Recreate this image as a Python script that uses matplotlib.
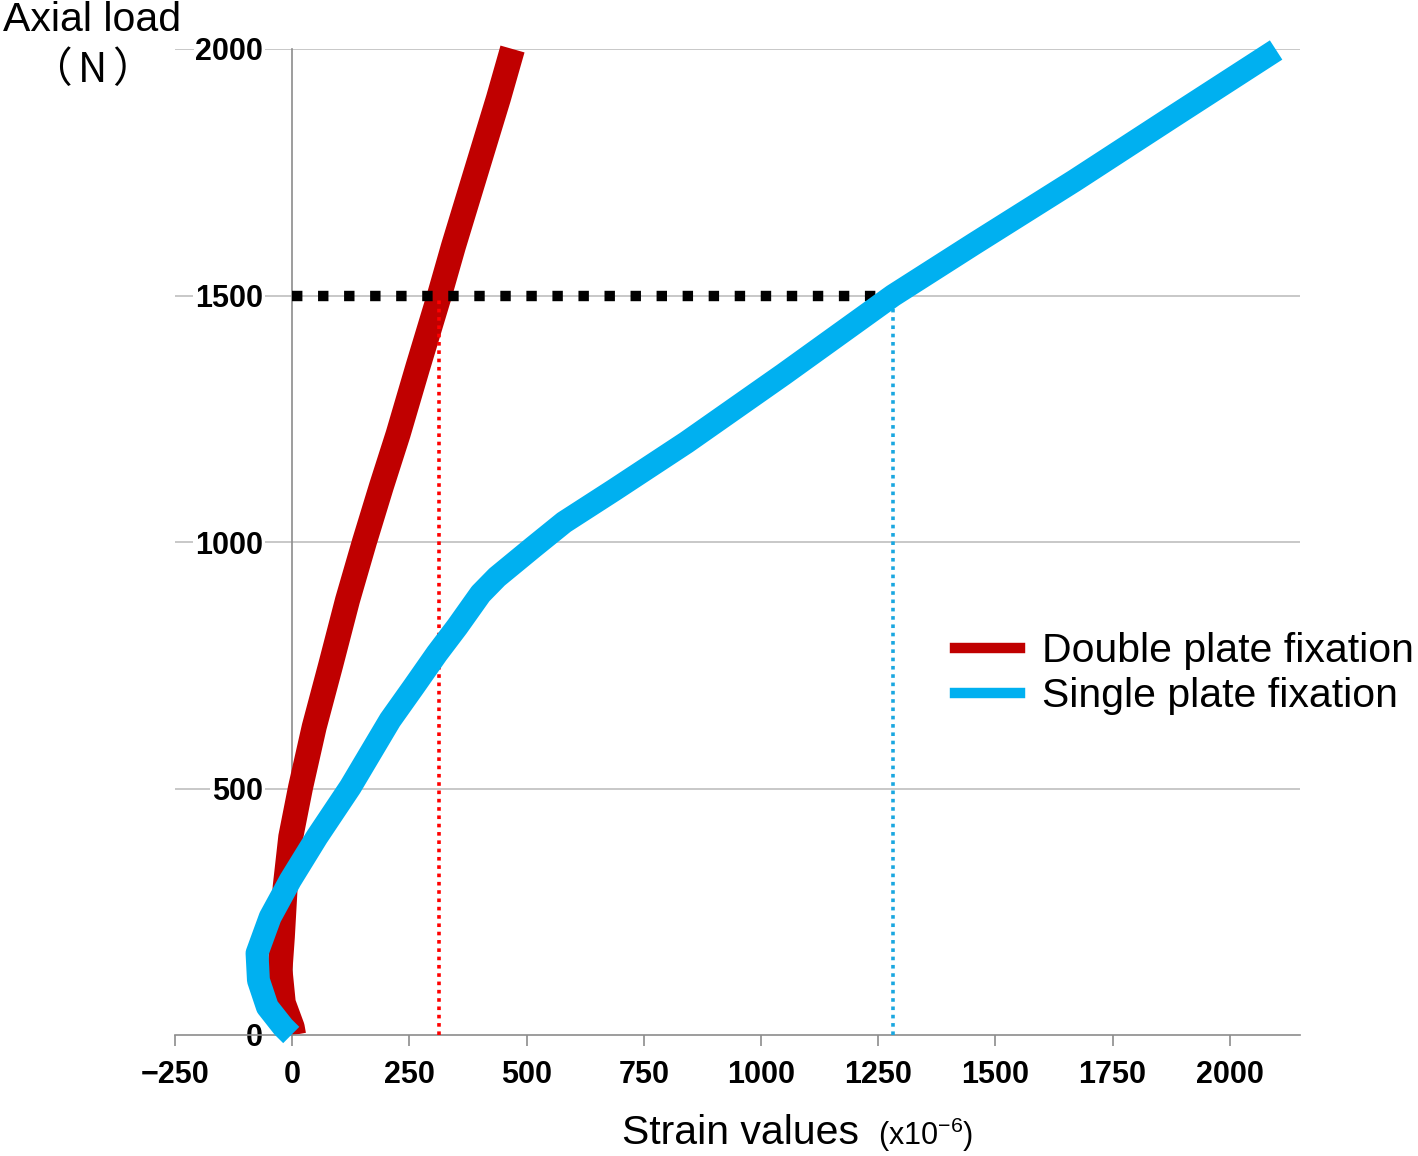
import matplotlib
matplotlib.use("Agg")
import matplotlib.pyplot as plt
from matplotlib.lines import Line2D

# ---- data ----
double_strain = [3, 0, -19, -26, -21, -15, -3, 18, 47, 82, 118, 154, 190, 226, 268, 314, 344, 376, 408, 440, 470]
double_load   = [0, 16, 65, 132, 199, 300, 402, 503, 625, 750, 882, 1000, 1112, 1219, 1355, 1500, 1600, 1700, 1800, 1900, 2000]

single_strain = [-2, -19, -53, -72, -75, -47, -4, 53, 124, 209, 259, 309, 352, 402, 437, 515, 580, 686, 841, 1048, 1282, 1455, 1669, 1876, 2099]
single_load   = [0, 16, 57, 111, 166, 239, 314, 402, 503, 639, 706, 774, 828, 895, 929, 990, 1040, 1105, 1202, 1340, 1500, 1605, 1733, 1861, 1998]

ref_load = 1500
double_at_ref = 314
single_at_ref = 1282
ref_line_end = 1262

x_ticks = [-250, 0, 250, 500, 750, 1000, 1250, 1500, 1750, 2000]
x_tick_labels = ["\u2212250", "0", "250", "500", "750", "1000", "1250", "1500", "1750", "2000"]
y_ticks = [0, 500, 1000, 1500, 2000]
y_tick_labels = ["0", "500", "1000", "1500", "2000"]

series_labels = ["Double plate fixation", "Single plate fixation"]
RED = "#C00000"
BLUE = "#00B0F0"

plt.rcParams["font.family"] = ["Liberation Sans", "Noto Sans CJK JP", "DejaVu Sans"]
plt.rcParams["mathtext.fontset"] = "custom"
plt.rcParams["mathtext.rm"] = "Liberation Sans"

W, H = 1418, 1156
fig = plt.figure(figsize=(W / 100, H / 100), dpi=100)
ax = fig.add_axes([175 / W, 1 - 1035 / H, (1300 - 175) / W, (1035 - 49) / H])

ax.set_xlim(-250, 2150)
ax.set_ylim(0, 2000)

# grid
for yv in y_ticks[1:]:
    ax.axhline(yv, color="#BFBFBF", lw=1.2, zorder=0)

for s in ["top", "right"]:
    ax.spines[s].set_visible(False)
ax.spines["left"].set_position(("data", 0))
for s in ["left", "bottom"]:
    ax.spines[s].set_color("#8C8C8C")
    ax.spines[s].set_linewidth(1.2)
ax.spines["left"].set_zorder(0.5)

ax.set_xticks(x_ticks)
ax.set_xticklabels(x_tick_labels, fontweight="bold", fontsize=22)
ax.set_yticks(y_ticks)
ax.set_yticklabels(y_tick_labels, fontweight="bold", fontsize=22)
ax.tick_params(axis="x", length=8, width=1.2, color="#8C8C8C", pad=10)
ax.tick_params(axis="y", length=0, pad=21)
for lab in ax.get_yticklabels():
    lab.set_bbox(dict(facecolor="white", edgecolor="none", pad=1))

# curves
ax.plot(double_strain, double_load, color=RED, lw=18, solid_capstyle="butt",
        solid_joinstyle="round", zorder=2, clip_on=False)
ax.plot([double_at_ref, double_at_ref], [0, ref_load], color="#FF0000", lw=2.6,
        linestyle=(0, (1, 1.3)), dash_capstyle="butt", zorder=3, clip_on=False)
ax.plot([0, ref_line_end], [ref_load, ref_load], color="black", lw=7.5,
        linestyle=(0, (1, 1.5)), dash_capstyle="butt", zorder=3.5)
ax.plot([single_at_ref, single_at_ref], [0, ref_load], color="#1AA7E0", lw=2.6,
        linestyle=(0, (1, 1.3)), dash_capstyle="butt", zorder=3, clip_on=False)
ax.plot(single_strain, single_load, color=BLUE, lw=16.5, solid_capstyle="butt",
        solid_joinstyle="round", zorder=4, clip_on=False)

# legend
handles = [Line2D([0], [0], color=RED, lw=7.5), Line2D([0], [0], color=BLUE, lw=7.5)]
ax.legend(handles, series_labels, loc="center left",
          bbox_to_anchor=(955 / W, 1 - 673.5 / H), bbox_transform=fig.transFigure,
          frameon=False, fontsize=29.5, handlelength=1.59, handletextpad=0.54,
          labelspacing=0.17, borderpad=0, borderaxespad=0)

# axis titles
fig.text(3 / W, 1 - 20 / H, "Axial load", fontsize=29.5, ha="left", va="center")
cjk = ["Noto Sans CJK JP", "Liberation Sans"]
fig.text(72 / W, 1 - 71 / H, "（", fontsize=30, ha="right", va="center", family=cjk)
fig.text(92 / W, 1 - 71 / H, "N", fontsize=29, ha="center", va="center", family=cjk)
fig.text(112 / W, 1 - 71 / H, "）", fontsize=30, ha="left", va="center", family=cjk)
fig.text(622 / W, 1 - 1133 / H, "Strain values", fontsize=29.5, ha="left", va="center")
fig.text(878 / W, 1 - 1135 / H, r"(x10$^{\mathregular{-6}}$)", fontsize=22, ha="left", va="center")

fig.savefig("out.png", dpi=100)
